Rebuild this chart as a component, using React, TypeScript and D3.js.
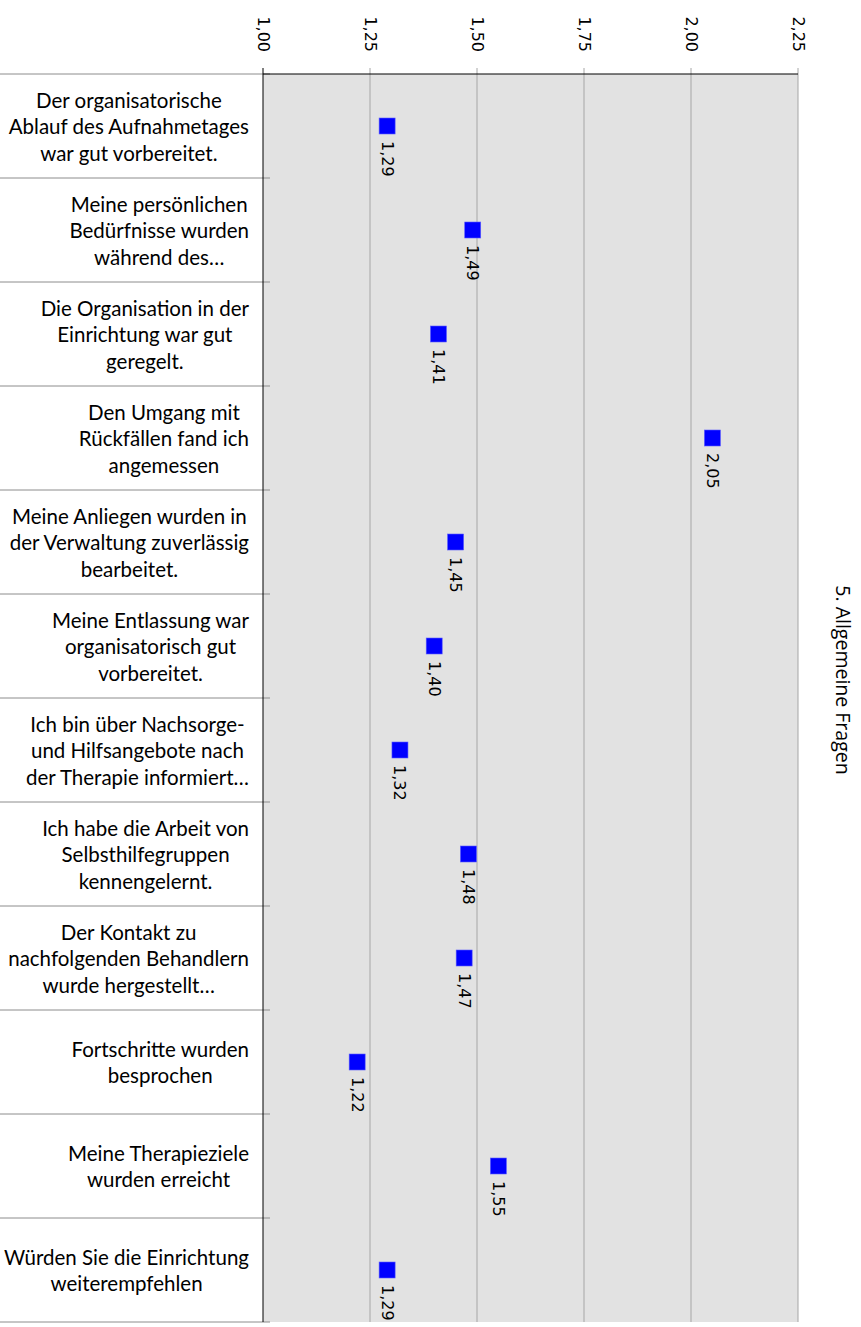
import React, { useRef, useEffect } from 'react';
import * as d3 from 'd3';

const categories: string[] = [
  'Der organisatorische\nAblauf des Aufnahmetages\nwar gut vorbereitet.',
  'Meine persönlichen\nBedürfnisse wurden\nwährend des…',
  'Die Organisation in der\nEinrichtung war gut\ngeregelt.',
  'Den Umgang mit\nRückfällen fand ich\nangemessen',
  'Meine Anliegen wurden in\nder Verwaltung zuverlässig\nbearbeitet.',
  'Meine Entlassung war\norganisatorisch gut\nvorbereitet.',
  'Ich bin über Nachsorge-\nund Hilfsangebote nach\nder Therapie informiert…',
  'Ich habe die Arbeit von\nSelbsthilfegruppen\nkennengelernt.',
  'Der Kontakt zu\nnachfolgenden Behandlern\nwurde hergestellt…',
  'Fortschritte wurden\nbesprochen',
  'Meine Therapieziele\nwurden erreicht',
  'Würden Sie die Einrichtung\nweiterempfehlen',
];

const values: number[] = [1.29, 1.49, 1.41, 2.05, 1.45, 1.40, 1.32, 1.48, 1.47, 1.22, 1.55, 1.29];

const ticks: number[] = [1.0, 1.25, 1.5, 1.75, 2.0, 2.25];

const title = '5. Allgemeine Fragen';

const W = 861;
const H = 1327;
const fmt = (v: number) => v.toFixed(2).replace('.', ',');

export default function App() {
  const ref = useRef<SVGSVGElement | null>(null);

  useEffect(() => {
    if (!ref.current) return;
    const svg = d3.select(ref.current);
    svg.selectAll('*').remove();

    const left = 263, right = 798, top = 74, bottom = 1322;

    const x = d3.scaleLinear().domain([1, 2.25]).range([left, right]);
    const y = d3.scaleBand<number>()
      .domain(d3.range(categories.length))
      .range([top, bottom]);

    // plot background
    svg.append('rect')
      .attr('x', left).attr('y', top)
      .attr('width', right - left).attr('height', bottom - top)
      .attr('fill', '#e2e2e2');

    // gridlines + small ticks above
    svg.append('g').selectAll('line')
      .data(ticks.slice(1))
      .enter().append('line')
      .attr('x1', d => x(d)).attr('x2', d => x(d))
      .attr('y1', top - 6).attr('y2', bottom)
      .attr('stroke', '#a6a6a6').attr('stroke-width', 1);

    // category separators (extend left across labels)
    svg.append('g').selectAll('line')
      .data(d3.range(categories.length + 1))
      .enter().append('line')
      .attr('x1', 0)
      .attr('x2', left + 7)
      .attr('y1', i => top + i * y.step())
      .attr('y2', i => top + i * y.step())
      .attr('stroke', '#8c8c8c').attr('stroke-width', 1);

    // axis lines
    svg.append('line')
      .attr('x1', left).attr('x2', right)
      .attr('y1', top).attr('y2', top)
      .attr('stroke', '#000').attr('stroke-width', 1);
    svg.append('line')
      .attr('x1', left).attr('x2', left)
      .attr('y1', top - 6).attr('y2', bottom)
      .attr('stroke', '#000').attr('stroke-width', 1);

    // value tick labels (rotated)
    svg.append('g').selectAll('text')
      .data(ticks)
      .enter().append('text')
      .attr('transform', d => `translate(${x(d)},52) rotate(90)`)
      .attr('text-anchor', 'end')
      .attr('dominant-baseline', 'central')
      .attr('font-family', 'DejaVu Sans')
      .attr('font-size', 16)
      .attr('fill', '#000')
      .text(d => fmt(d));

    // category labels
    const lineH = 26.5;
    const labelRight = 249;
    categories.forEach((c, i) => {
      const lines = c.split('\n');
      const g = svg.append('g');
      const cy = (y(i) as number) + y.bandwidth() / 2;
      const texts = g.selectAll('text')
        .data(lines)
        .enter().append('text')
        .attr('y', (_, j) => cy + (j - (lines.length - 1) / 2) * lineH)
        .attr('text-anchor', 'middle')
        .attr('dominant-baseline', 'central')
        .attr('font-family', 'Lato')
        .attr('font-size', 20.5)
        .attr('fill', '#000')
        .text(d => d);
      let maxW = 0;
      texts.each(function () {
        maxW = Math.max(maxW, (this as SVGTextElement).getComputedTextLength());
      });
      texts.attr('x', labelRight - maxW / 2);
    });

    // markers
    const s = 16;
    svg.append('g').selectAll('rect')
      .data(values)
      .enter().append('rect')
      .attr('x', d => x(d) - s / 2)
      .attr('y', (_, i) => (y(i) as number) + y.bandwidth() / 2 - s / 2)
      .attr('width', s).attr('height', s)
      .attr('fill', '#0000ff')
      .attr('stroke', '#5a5aff').attr('stroke-width', 0.6);

    // data labels
    svg.append('g').selectAll('text')
      .data(values)
      .enter().append('text')
      .attr('transform', (d, i) =>
        `translate(${x(d)},${(y(i) as number) + y.bandwidth() / 2 + 15}) rotate(90)`)
      .attr('text-anchor', 'start')
      .attr('dominant-baseline', 'central')
      .attr('font-family', 'DejaVu Sans')
      .attr('font-size', 16)
      .attr('fill', '#000')
      .text(d => fmt(d));

    // title
    svg.append('text')
      .attr('transform', `translate(843,680) rotate(90)`)
      .attr('text-anchor', 'middle')
      .attr('dominant-baseline', 'central')
      .attr('font-family', 'Open Sans')
      .attr('font-size', 19.5)
      .attr('fill', '#000')
      .text(title);
  }, []);

  return (
    <svg
      ref={ref}
      width={W}
      height={H}
      style={{ position: 'absolute', left: 0, top: 0, background: '#fff' }}
    />
  );
}
